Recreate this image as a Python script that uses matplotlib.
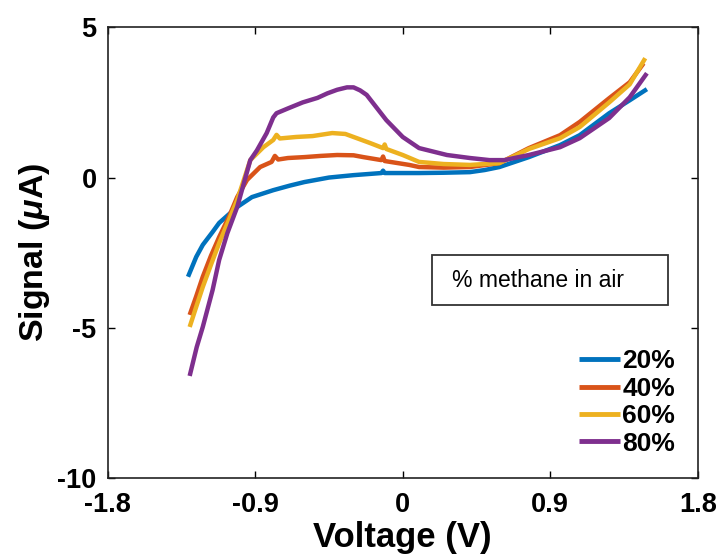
import matplotlib
matplotlib.use("Agg")
import matplotlib.pyplot as plt
from matplotlib.patches import Rectangle

plt.rcParams['font.family'] = ['Liberation Sans', 'DejaVu Sans']
plt.rcParams['mathtext.fontset'] = 'custom'
plt.rcParams['mathtext.it'] = 'Liberation Sans:italic:bold'
plt.rcParams['mathtext.rm'] = 'Liberation Sans:bold'

labels = ["20%", "40%", "60%", "80%"]
colors = ["#0072BD", "#D95319", "#EDB120", "#7E2F8E"]

v20 = [-1.31, -1.26, -1.22, -1.16, -1.12, -1.06, -1.01, -0.92, -0.79, -0.69, -0.60, -0.45, -0.30,
       -0.13, -0.12, -0.11, 0.0, 0.10, 0.25, 0.41, 0.50, 0.59, 0.77, 0.96, 1.08, 1.26, 1.385, 1.49]
s20 = [-3.3, -2.64, -2.24, -1.81, -1.51, -1.22, -0.98, -0.65, -0.42, -0.27, -0.15, 0.0, 0.08,
       0.15, 0.23, 0.15, 0.15, 0.15, 0.16, 0.18, 0.25, 0.35, 0.68, 1.08, 1.41, 2.14, 2.57, 2.94]

v40 = [-1.30, -1.26, -1.22, -1.17, -1.12, -1.06, -1.01, -0.95, -0.87, -0.80, -0.78, -0.76, -0.70,
       -0.60, -0.50, -0.40, -0.30, -0.24, -0.13, -0.12, -0.11, 0.04, 0.10, 0.25, 0.41, 0.59, 0.77,
       0.96, 1.08, 1.26, 1.385, 1.47]
s40 = [-4.57, -3.95, -3.3, -2.6, -1.98, -1.3, -0.65, -0.08, 0.35, 0.52, 0.72, 0.60, 0.65,
       0.68, 0.72, 0.75, 0.74, 0.68, 0.58, 0.70, 0.55, 0.42, 0.35, 0.33, 0.35, 0.48, 0.98,
       1.41, 1.85, 2.64, 3.17, 3.8]

v60 = [-1.30, -1.26, -1.22, -1.17, -1.12, -1.06, -1.01, -0.93, -0.85, -0.79, -0.77, -0.75, -0.65,
       -0.55, -0.43, -0.35, -0.28, -0.20, -0.12, -0.11, -0.10, 0.0, 0.10, 0.25, 0.41, 0.59, 0.77,
       0.96, 1.08, 1.26, 1.385, 1.48]
s60 = [-4.97, -4.3, -3.64, -2.9, -2.18, -1.4, -0.75, 0.58, 1.01, 1.25, 1.42, 1.30, 1.35,
       1.38, 1.48, 1.45, 1.31, 1.15, 0.98, 1.10, 0.95, 0.75, 0.52, 0.45, 0.42, 0.48, 0.95,
       1.31, 1.68, 2.50, 3.10, 3.97]

v80 = [-1.30, -1.257, -1.22, -1.16, -1.12, -1.07, -1.01, -0.93, -0.89, -0.83, -0.79, -0.77, -0.70,
       -0.61, -0.52, -0.46, -0.40, -0.34, -0.30, -0.26, -0.22, -0.18, -0.10, 0.0, 0.10, 0.27, 0.41,
       0.53, 0.62, 0.77, 0.96, 1.08, 1.26, 1.385, 1.49]
s80 = [-6.6, -5.64, -4.97, -3.74, -2.74, -1.85, -0.98, 0.58, 0.90, 1.48, 2.00, 2.14, 2.30,
       2.50, 2.65, 2.80, 2.92, 3.00, 3.00, 2.90, 2.75, 2.47, 1.91, 1.35, 0.98, 0.75, 0.65,
       0.58, 0.58, 0.75, 1.01, 1.31, 1.98, 2.67, 3.47]

xs = [v20, v40, v60, v80]
ys = [s20, s40, s60, s80]

xticks = [-1.8, -0.9, 0, 0.9, 1.8]
xticklabels = ["-1.8", "-0.9", "0", "0.9", "1.8"]
yticks = [-10, -5, 0, 5]
yticklabels = ["-10", "-5", "0", "5"]
box_text = "% methane in air"

fig = plt.figure(figsize=(7.23, 5.56), dpi=100)
ax = fig.add_axes([0.149, 0.140, 0.816, 0.811])

for x, y, c, l in zip(xs, ys, colors, labels):
    ax.plot(x, y, color=c, lw=3.2, label=l, solid_capstyle='butt')

ax.set_xlim(-1.8, 1.8)
ax.set_ylim(-10, 5)
ax.set_xticks(xticks)
ax.set_xticklabels(xticklabels)
ax.set_yticks(yticks)
ax.set_yticklabels(yticklabels)
ax.tick_params(direction='in', length=5, width=1, top=True, right=True, labelsize=19.5)
ax.tick_params(axis='x', pad=10)
ax.tick_params(axis='y', pad=8)
for t in ax.get_xticklabels() + ax.get_yticklabels():
    t.set_fontweight('bold')
for sp in ax.spines.values():
    sp.set_linewidth(1.2)
    sp.set_color('#222222')

ax.set_xlabel("Voltage (V)", fontsize=25, fontweight='bold', labelpad=2)
ax.set_ylabel(r"Signal ($\mu$A)", fontsize=24.5, fontweight='bold', labelpad=4)

leg = ax.legend(loc='lower right', bbox_to_anchor=(0.962, 0.05), frameon=False,
                handlelength=1.55, handletextpad=0.1, labelspacing=0.13,
                borderaxespad=0.0, borderpad=0.0,
                prop={'weight': 'bold', 'size': 19})
for h in leg.get_lines():
    h.set_linewidth(3.5)

ax.add_patch(Rectangle((0.549, 0.384), 0.40, 0.110, transform=ax.transAxes,
                       fc='white', ec='#333333', lw=1.3, zorder=3))
ax.text(0.583, 0.439, box_text, transform=ax.transAxes, fontsize=16.5,
        va='center', ha='left', zorder=4)

fig.savefig("out.png", dpi=100)
